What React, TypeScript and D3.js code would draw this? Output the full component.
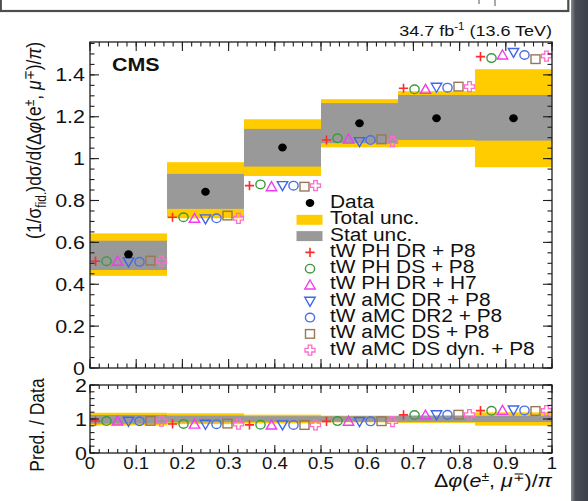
import React from "react";
import * as d3 from "d3";

// Bin edges of Δφ(e±, μ∓)/π
const binEdges = [0, 0.1667, 0.3333, 0.5, 0.6667, 0.8333, 1];

// Measured normalised cross section and uncertainty bands
const dataValues = [0.543, 0.842, 1.053, 1.169, 1.193, 1.193];
const totalLow = [0.44, 0.715, 0.917, 1.054, 1.056, 0.959];
const totalHigh = [0.643, 0.983, 1.188, 1.284, 1.322, 1.427];
const statLow = [0.468, 0.76, 0.962, 1.074, 1.089, 1.086];
const statHigh = [0.608, 0.927, 1.142, 1.265, 1.304, 1.304];

// Predictions
const predPhDrP8 = [0.51, 0.72, 0.871, 1.089, 1.336, 1.487];
const predPhDsP8 = [0.51, 0.72, 0.877, 1.097, 1.331, 1.48];
const predPhDrH7 = [0.51, 0.715, 0.866, 1.093, 1.331, 1.495];
const predAmcDrP8 = [0.507, 0.712, 0.871, 1.081, 1.341, 1.507];
const predAmcDr2P8 = [0.507, 0.715, 0.871, 1.089, 1.339, 1.495];
const predAmcDsP8 = [0.513, 0.728, 0.866, 1.092, 1.344, 1.475];
const predAmcDsDynP8 = [0.51, 0.715, 0.871, 1.081, 1.344, 1.49];

const predNames = [
  "tW PH DR + P8",
  "tW PH DS + P8",
  "tW PH DR + H7",
  "tW aMC DR + P8",
  "tW aMC DR2 + P8",
  "tW aMC DS + P8",
  "tW aMC DS dyn. + P8",
];
const predValues = [predPhDrP8, predPhDsP8, predPhDrH7, predAmcDrP8, predAmcDr2P8, predAmcDsP8, predAmcDsDynP8];
const predMarkers = ["plus", "circle", "triUp", "triDown", "circle", "square", "openCross"];
const predColors = ["#ff2a2a", "#3c9a3c", "#f03cf0", "#3f66e8", "#4a70e2", "#9a7656", "#ff6ccc"];

// Axis tick labels
const xTickLabels = [0, 0.1, 0.2, 0.3, 0.4, 0.5, 0.6, 0.7, 0.8, 0.9, 1];
const yTickLabels = [0, 0.2, 0.4, 0.6, 0.8, 1, 1.2, 1.4];
const ratioTickLabels = [0, 1, 2];

const W = 588;
const H = 501;
const SX = 1.16; // horizontal glyph stretch
const FONT = "'Liberation Sans', Arial, Helvetica, sans-serif";
const YELLOW = "#ffcc00";
const GREY = "#999999";
const FRAME = "#1e1e1e";

const x = d3.scaleLinear().domain([0, 1]).range([90, 552]);
const y = d3.scaleLinear().domain([0, 1.557]).range([368, 42]);
const yr = d3.scaleLinear().domain([0, 2]).range([453, 385]);

function Marker({ kind, cx, cy, color }: { kind: string; cx: number; cy: number; color: string }) {
  const sw = 1.4;
  if (kind === "plus") {
    const s = 4.6;
    return (
      <path d={`M${cx - s},${cy}H${cx + s}M${cx},${cy - s}V${cy + s}`} stroke={color} strokeWidth={1.6} fill="none" />
    );
  }
  if (kind === "circle") {
    return <ellipse cx={cx} cy={cy} rx={4.6} ry={4.3} stroke={color} strokeWidth={sw} fill="none" />;
  }
  if (kind === "triUp") {
    return (
      <path d={`M${cx},${cy - 5}L${cx + 5.2},${cy + 4}L${cx - 5.2},${cy + 4}Z`} stroke={color} strokeWidth={sw} fill="none" />
    );
  }
  if (kind === "triDown") {
    return (
      <path d={`M${cx},${cy + 5}L${cx + 5.2},${cy - 4}L${cx - 5.2},${cy - 4}Z`} stroke={color} strokeWidth={sw} fill="none" />
    );
  }
  if (kind === "square") {
    return <rect x={cx - 4.5} y={cy - 4.3} width={9} height={8.6} stroke={color} strokeWidth={sw} fill="none" />;
  }
  // open cross outline
  const a = 5;
  const b = 1.8;
  const d = `M${cx - b},${cy - a}H${cx + b}V${cy - b}H${cx + a}V${cy + b}H${cx + b}V${cy + a}H${cx - b}V${cy + b}H${cx - a}V${cy - b}H${cx - b}Z`;
  return <path d={d} stroke={color} strokeWidth={1.3} fill="none" />;
}

function Txt({
  x0,
  y0,
  size,
  anchor = "start",
  weight = "normal",
  children,
}: {
  x0: number;
  y0: number;
  size: number;
  anchor?: string;
  weight?: string;
  children: React.ReactNode;
}) {
  return (
    <text
      transform={`translate(${x0},${y0}) scale(${SX},1)`}
      fontFamily={FONT}
      fontSize={size}
      fontWeight={weight}
      textAnchor={anchor}
      fill="#111"
    >
      {children}
    </text>
  );
}

function Ticks({
  scale,
  values,
  orient,
  pos,
  len,
}: {
  scale: d3.ScaleLinear<number, number>;
  values: number[];
  orient: "bottom" | "top" | "left" | "right";
  pos: number;
  len: number;
}) {
  return (
    <g stroke={FRAME} strokeWidth={1.1}>
      {values.map((v, i) => {
        const p = scale(v);
        if (orient === "bottom") return <line key={i} x1={p} x2={p} y1={pos} y2={pos - len} />;
        if (orient === "top") return <line key={i} x1={p} x2={p} y1={pos} y2={pos + len} />;
        if (orient === "left") return <line key={i} x1={pos} x2={pos + len} y1={p} y2={p} />;
        return <line key={i} x1={pos} x2={pos - len} y1={p} y2={p} />;
      })}
    </g>
  );
}

function markerX(bin: number, j: number) {
  const lo = binEdges[bin];
  const hi = binEdges[bin + 1];
  return x(lo + ((j + 0.5) / 7) * (hi - lo));
}

export default function App() {
  const nBins = dataValues.length;
  const xMajor = x.ticks(10);
  const xMinor = x.ticks(50);
  const yMajor = yTickLabels;
  const yMinor = d3.range(0, 1.556, 0.05);
  const rMajor = ratioTickLabels;
  const rMinor = d3.range(0, 2.001, 0.2);

  const legendTop = 201.5;
  const legendStep = 16.3;
  const legendMarkerX = 310;
  const legendTextX = 330;

  return (
    <svg width={W} height={H} style={{ position: "absolute", left: 0, top: 0, background: "#fff" }}>
      <defs>
        <linearGradient id="edge" x1="0" x2="1" y1="0" y2="0">
          <stop offset="0" stopColor="#8a8d92" />
          <stop offset="0.25" stopColor="#4a4e56" />
          <stop offset="1" stopColor="#3c4048" />
        </linearGradient>
      </defs>
      <rect x={0} y={0} width={W} height={H} fill="#fff" />
      {/* neighbouring panel strip and page edge */}
      <rect x={571} y={0} width={17} height={H} fill="url(#edge)" />
      <rect x={0.8} y={-3} width={567.5} height={14} fill="#fff" stroke="#4d4d4d" strokeWidth={2.2} />
      <line x1={479} x2={479} y1={0} y2={4} stroke="#555" strokeWidth={1} />
      <line x1={495} x2={495} y1={0} y2={6} stroke="#555" strokeWidth={1} />

      {/* ===== upper panel ===== */}
      {d3.range(nBins).map((i) => (
        <g key={`band${i}`}>
          <rect
            x={x(binEdges[i])}
            width={x(binEdges[i + 1]) - x(binEdges[i])}
            y={y(totalHigh[i])}
            height={y(totalLow[i]) - y(totalHigh[i])}
            fill={YELLOW}
          />
          <rect
            x={x(binEdges[i])}
            width={x(binEdges[i + 1]) - x(binEdges[i])}
            y={y(statHigh[i])}
            height={y(statLow[i]) - y(statHigh[i])}
            fill={GREY}
          />
        </g>
      ))}
      {predValues.map((vals, j) =>
        vals.map((v, i) => (
          <Marker key={`p${j}-${i}`} kind={predMarkers[j]} cx={markerX(i, j)} cy={y(v)} color={predColors[j]} />
        ))
      )}
      {dataValues.map((v, i) => (
        <ellipse
          key={`d${i}`}
          cx={x((binEdges[i] + binEdges[i + 1]) / 2)}
          cy={y(v)}
          rx={4.3}
          ry={4}
          fill="#000"
        />
      ))}

      {/* legend */}
      <ellipse cx={legendMarkerX} cy={legendTop + 1.5} rx={4.3} ry={4} fill="#000" />
      <rect x={296.5} y={legendTop + legendStep - 3} width={26} height={10} fill={YELLOW} />
      <rect x={296.5} y={legendTop + 2 * legendStep - 3} width={26} height={10} fill={GREY} />
      {predNames.map((n, j) => (
        <Marker
          key={`lm${j}`}
          kind={predMarkers[j]}
          cx={legendMarkerX}
          cy={legendTop + (j + 3) * legendStep + 2}
          color={predColors[j]}
        />
      ))}
      {["Data", "Total unc.", "Stat unc.", ...predNames].map((n, k) => (
        <Txt key={`lt${k}`} x0={legendTextX} y0={legendTop + k * legendStep + 6.4} size={18}>
          {n}
        </Txt>
      ))}

      {/* frame and ticks of upper panel */}
      <rect x={x(0)} y={y(1.557)} width={x(1) - x(0)} height={y(0) - y(1.557)} fill="none" stroke={FRAME} strokeWidth={1.3} />
      <Ticks scale={x} values={xMajor} orient="bottom" pos={y(0)} len={9} />
      <Ticks scale={x} values={xMinor} orient="bottom" pos={y(0)} len={4.5} />
      <Ticks scale={x} values={xMajor} orient="top" pos={y(1.557)} len={9} />
      <Ticks scale={x} values={xMinor} orient="top" pos={y(1.557)} len={4.5} />
      <Ticks scale={y} values={yMajor} orient="left" pos={x(0)} len={9} />
      <Ticks scale={y} values={yMinor} orient="left" pos={x(0)} len={4.5} />
      <Ticks scale={y} values={yMajor} orient="right" pos={x(1)} len={9} />
      <Ticks scale={y} values={yMinor} orient="right" pos={x(1)} len={4.5} />
      {yTickLabels.map((v) => (
        <Txt key={`yl${v}`} x0={85} y0={y(v) + 6.5} size={18.5} anchor="end">
          {String(v)}
        </Txt>
      ))}

      <Txt x0={112} y0={71} size={18.5} weight="bold">
        CMS
      </Txt>
      <Txt x0={552} y0={36} size={15.5} anchor="end">
        34.7 fb
        <tspan dy={-6} fontSize={10}>
          -1
        </tspan>
        <tspan dy={6}> (13.6 TeV)</tspan>
      </Txt>

      {/* y-axis title of upper panel */}
      <text
        transform={`translate(41,42) rotate(-90) scale(1,${SX})`}
        fontFamily={FONT}
        fontSize={17.5}
        textAnchor="end"
        fill="#111"
      >
        (1/σ
        <tspan dy={4} fontSize={12}>
          fid.
        </tspan>
        <tspan dy={-4}>)dσ/d(Δ</tspan>
        <tspan fontStyle="italic">φ</tspan>
        <tspan>(e</tspan>
        <tspan dy={-6} fontSize={12}>
          ±
        </tspan>
        <tspan dy={6}>, </tspan>
        <tspan fontStyle="italic">μ</tspan>
        <tspan dy={-6} fontSize={12}>
          ∓
        </tspan>
        <tspan dy={6}>)/</tspan>
        <tspan fontStyle="italic">π</tspan>
        <tspan>)</tspan>
      </text>

      {/* ===== ratio panel ===== */}
      {d3.range(nBins).map((i) => (
        <g key={`rband${i}`}>
          <rect
            x={x(binEdges[i])}
            width={x(binEdges[i + 1]) - x(binEdges[i])}
            y={yr(totalHigh[i] / dataValues[i])}
            height={yr(totalLow[i] / dataValues[i]) - yr(totalHigh[i] / dataValues[i])}
            fill={YELLOW}
          />
          <rect
            x={x(binEdges[i])}
            width={x(binEdges[i + 1]) - x(binEdges[i])}
            y={yr(statHigh[i] / dataValues[i])}
            height={yr(statLow[i] / dataValues[i]) - yr(statHigh[i] / dataValues[i])}
            fill={GREY}
          />
        </g>
      ))}
      {predValues.map((vals, j) =>
        vals.map((v, i) => (
          <Marker
            key={`r${j}-${i}`}
            kind={predMarkers[j]}
            cx={markerX(i, j)}
            cy={yr(v / dataValues[i])}
            color={predColors[j]}
          />
        ))
      )}
      <rect x={x(0)} y={yr(2)} width={x(1) - x(0)} height={yr(0) - yr(2)} fill="none" stroke={FRAME} strokeWidth={1.3} />
      <Ticks scale={x} values={xMajor} orient="bottom" pos={yr(0)} len={8} />
      <Ticks scale={x} values={xMinor} orient="bottom" pos={yr(0)} len={4} />
      <Ticks scale={x} values={xMajor} orient="top" pos={yr(2)} len={8} />
      <Ticks scale={x} values={xMinor} orient="top" pos={yr(2)} len={4} />
      <Ticks scale={yr} values={rMajor} orient="left" pos={x(0)} len={9} />
      <Ticks scale={yr} values={rMinor} orient="left" pos={x(0)} len={4.5} />
      <Ticks scale={yr} values={rMajor} orient="right" pos={x(1)} len={9} />
      <Ticks scale={yr} values={rMinor} orient="right" pos={x(1)} len={4.5} />
      {ratioTickLabels.map((v) => (
        <Txt key={`rl${v}`} x0={87} y0={yr(v) + 6.5} size={18.5} anchor="end">
          {String(v)}
        </Txt>
      ))}
      {xTickLabels.map((v) => (
        <Txt key={`xl${v}`} x0={x(v)} y0={469} size={16} anchor="middle">
          {String(v)}
        </Txt>
      ))}

      <text
        transform={`translate(44,425) rotate(-90) scale(1,${SX})`}
        fontFamily={FONT}
        fontSize={17.5}
        textAnchor="middle"
        fill="#111"
      >
        Pred. / Data
      </text>

      {/* x-axis title */}
      <Txt x0={552} y0={487} size={18.5} anchor="end">
        Δ<tspan fontStyle="italic">φ</tspan>(<tspan fontStyle="italic">e</tspan>
        <tspan dy={-6} fontSize={12}>
          ±
        </tspan>
        <tspan dy={6}>, </tspan>
        <tspan fontStyle="italic">μ</tspan>
        <tspan dy={-6} fontSize={12}>
          ∓
        </tspan>
        <tspan dy={6}>)/</tspan>
        <tspan fontStyle="italic">π</tspan>
      </Txt>
    </svg>
  );
}
